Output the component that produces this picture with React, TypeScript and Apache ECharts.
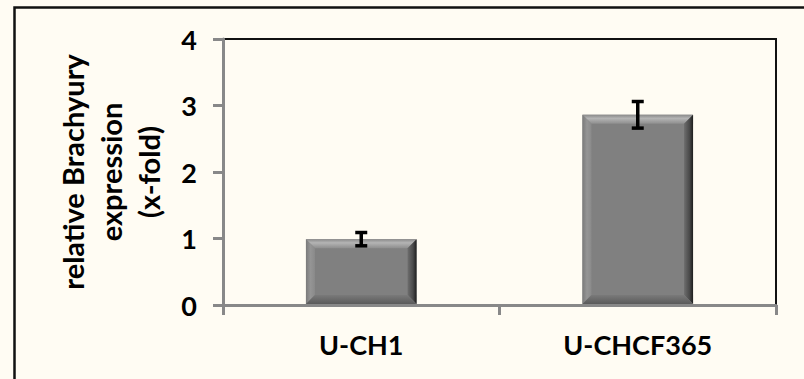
import React, { useEffect, useRef } from "react";
import * as echarts from "echarts";

const categories = ["U-CH1", "U-CHCF365"];
const values = [0.99, 2.86];
const errors = [0.1, 0.2];
const yTicks = [0, 1, 2, 3, 4];

const FONT = "Lato";

export default function App() {
  const ref = useRef<HTMLDivElement>(null);
  useEffect(() => {
    const chart = echarts.init(ref.current!, null, { renderer: "svg" });
    const data = categories.map((c, i) => [i, values[i], errors[i]]);
    chart.setOption({
      animation: false,
      backgroundColor: "#FFFCF3",
      graphic: [
        {
          type: "rect",
          left: 12,
          top: 5,
          shape: { x: 0, y: 0, width: 820, height: 420 },
          style: { fill: "none", stroke: "#111", lineWidth: 2.5 },
          silent: true,
        },
      ],
      grid: {
        left: 223,
        right: 28,
        top: 39,
        bottom: 74,
        show: true,
        borderColor: "#111",
        borderWidth: 2,
        backgroundColor: "transparent",
      },
      xAxis: {
        type: "category",
        data: categories,
        boundaryGap: true,
        axisLine: { lineStyle: { color: "#888", width: 3 } },
        axisTick: { show: true, length: 10, lineStyle: { color: "#888", width: 3 } },
        axisLabel: {
          margin: 26,
          fontFamily: FONT,
          fontWeight: "bold",
          fontSize: 27,
          color: "#000",
        },
      },
      yAxis: {
        type: "value",
        min: yTicks[0],
        max: yTicks[yTicks.length - 1],
        interval: 1,
        splitLine: { show: false },
        axisLine: { show: true, lineStyle: { color: "#888", width: 3 } },
        axisTick: { show: true, length: 10, lineStyle: { color: "#888", width: 3 } },
        axisLabel: {
          margin: 26,
          fontFamily: FONT,
          fontWeight: "bold",
          fontSize: 27,
          color: "#000",
        },
        name: "relative Brachyury\nexpression\n(x-fold)",
        nameLocation: "middle",
        nameRotate: 90,
        nameGap: 56,
        nameTextStyle: {
          fontFamily: FONT,
          fontWeight: "bold",
          fontSize: 29,
          lineHeight: 38,
          color: "#000",
          align: "center",
        },
      },
      series: [
        {
          type: "custom",
          data,
          clip: false,
          renderItem: (params: any, api: any) => {
            const idx = api.value(0);
            const val = api.value(1);
            const err = api.value(2);
            const top = api.coord([idx, val]);
            const base = api.coord([idx, 0]);
            const band = api.size([1, 0])[0];
            const w = band * 0.4;
            const x0 = top[0] - w / 2;
            const x1 = top[0] + w / 2;
            const yT = top[1];
            const yB = base[1] - 1;
            const b = 9;
            const eTop = api.coord([idx, val + err])[1];
            const eBot = api.coord([idx, val - err])[1];
            const cx = top[0];
            const cap = 6;
            return {
              type: "group",
              children: [
                {
                  type: "rect",
                  shape: { x: x0, y: yT, width: w, height: yB - yT },
                  style: { fill: "#808080" },
                },
                {
                  type: "polygon",
                  shape: { points: [[x0, yT], [x1, yT], [x1 - b, yT + b], [x0 + b, yT + b]] },
                  style: {
                    fill: new echarts.graphic.LinearGradient(0, 0, 0, 1, [
                      { offset: 0, color: "#8a8a8a" },
                      { offset: 0.4, color: "#b4b4b4" },
                      { offset: 1, color: "#8e8e8e" },
                    ]),
                  },
                },
                {
                  type: "polygon",
                  shape: { points: [[x0, yT], [x0 + b, yT + b], [x0 + b, yB - b], [x0, yB]] },
                  style: {
                    fill: new echarts.graphic.LinearGradient(0, 0, 1, 0, [
                      { offset: 0, color: "#7a7a7a" },
                      { offset: 0.5, color: "#959595" },
                      { offset: 1, color: "#8a8a8a" },
                    ]),
                  },
                },
                {
                  type: "polygon",
                  shape: { points: [[x1, yT], [x1, yB], [x1 - b, yB - b], [x1 - b, yT + b]] },
                  style: {
                    fill: new echarts.graphic.LinearGradient(0, 0, 1, 0, [
                      { offset: 0, color: "#6e6e6e" },
                      { offset: 0.6, color: "#4a4a4a" },
                      { offset: 1, color: "#1e1e1e" },
                    ]),
                  },
                },
                {
                  type: "polygon",
                  shape: { points: [[x0, yB], [x1, yB], [x1 - b, yB - b], [x0 + b, yB - b]] },
                  style: {
                    fill: new echarts.graphic.LinearGradient(0, 0, 0, 1, [
                      { offset: 0, color: "#7a7a7a" },
                      { offset: 1, color: "#5a5a5a" },
                    ]),
                  },
                },
                {
                  type: "line",
                  shape: { x1: cx, y1: eTop, x2: cx, y2: eBot },
                  style: { stroke: "#000", lineWidth: 3.5 },
                },
                {
                  type: "line",
                  shape: { x1: cx - cap, y1: eTop, x2: cx + cap, y2: eTop },
                  style: { stroke: "#000", lineWidth: 3.5 },
                },
                {
                  type: "line",
                  shape: { x1: cx - cap, y1: eBot, x2: cx + cap, y2: eBot },
                  style: { stroke: "#000", lineWidth: 3.5 },
                },
              ],
            };
          },
        },
      ],
    });
    return () => chart.dispose();
  }, []);
  return (
    <div
      ref={ref}
      style={{ position: "absolute", left: 0, top: 0, width: 804, height: 379 }}
    />
  );
}
